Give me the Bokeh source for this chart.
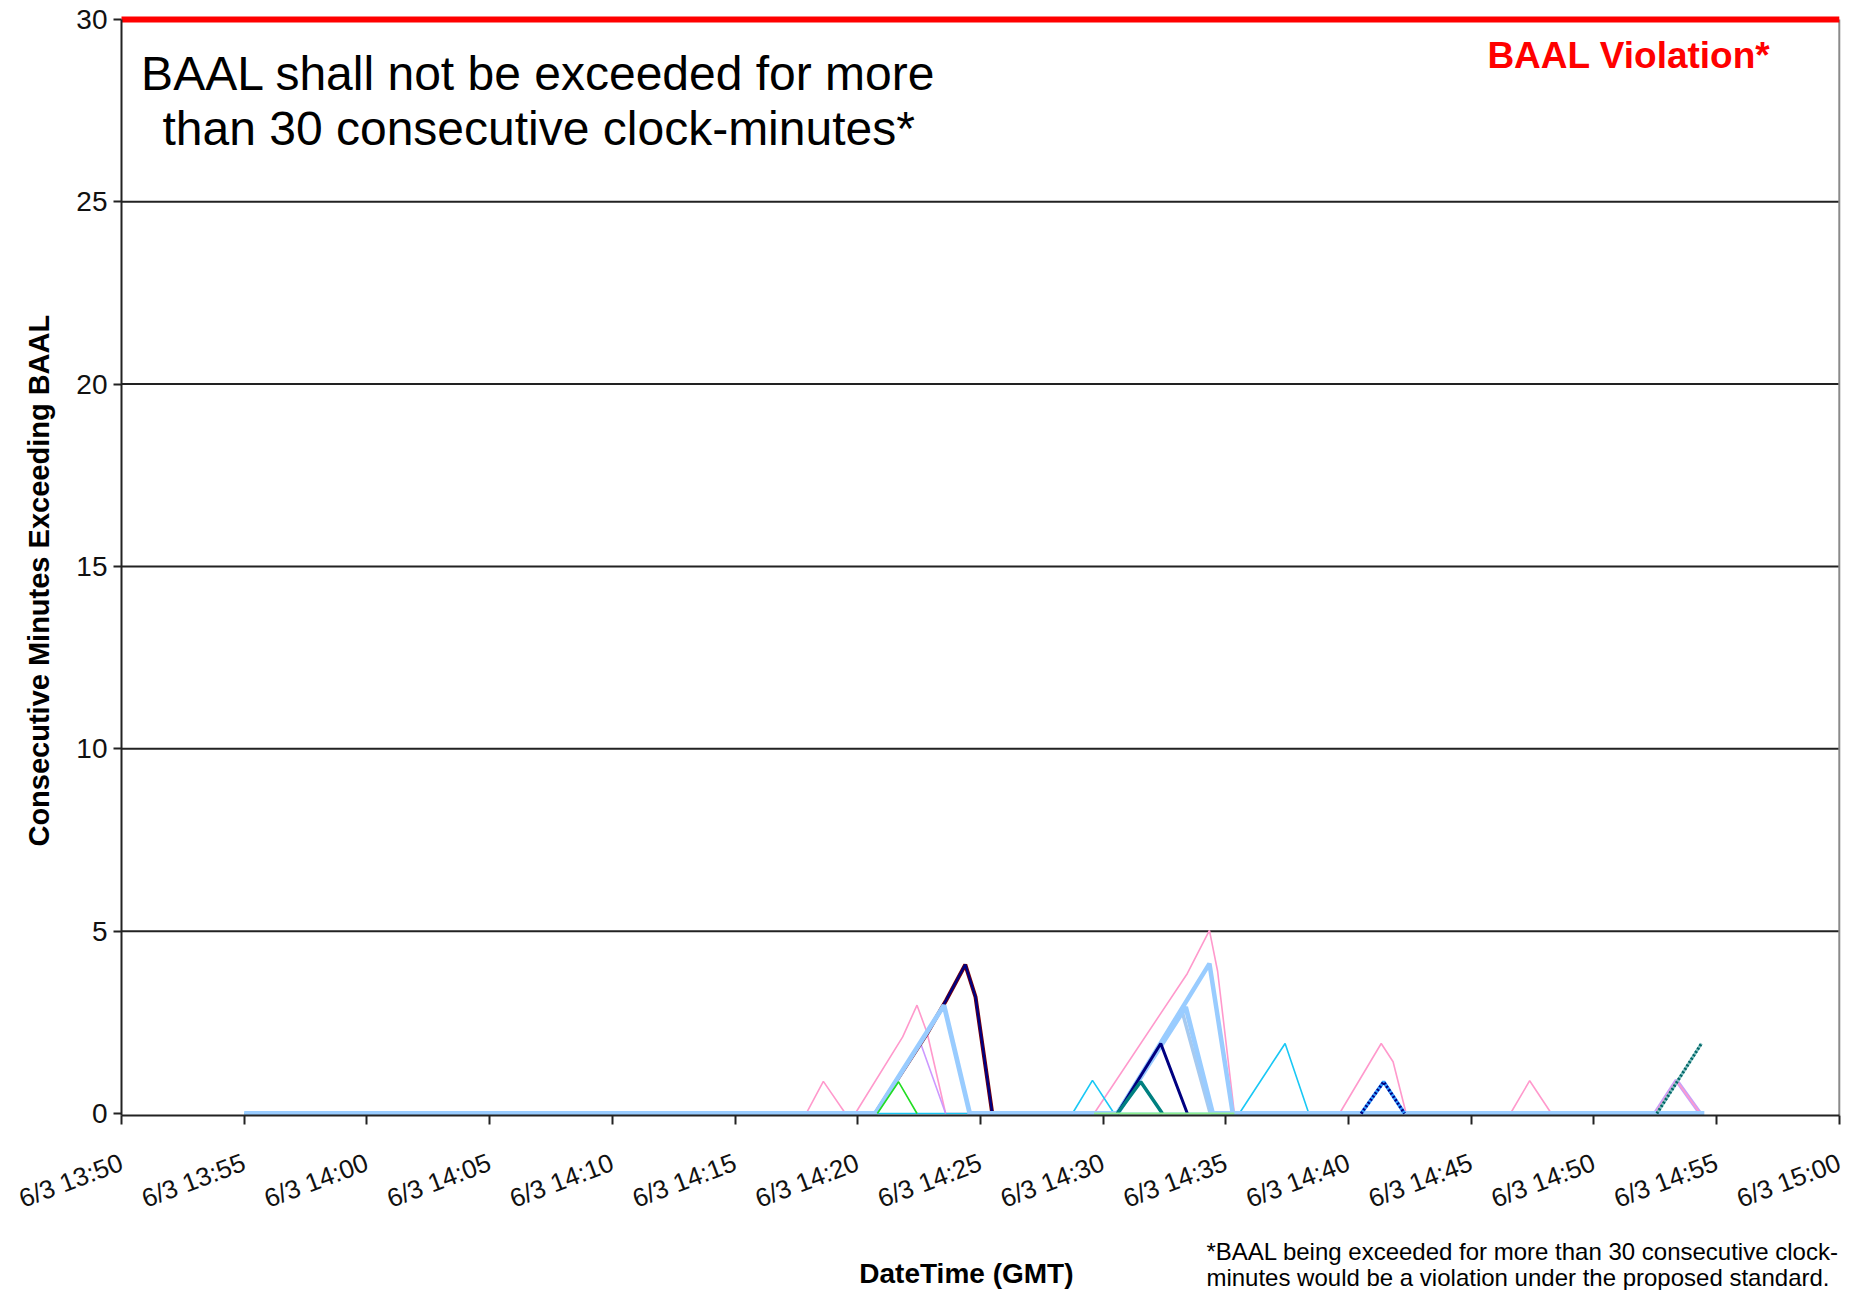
import math
from bokeh.plotting import figure
from bokeh.models import Range1d, FixedTicker, Label
from bokeh.embed import file_html
from bokeh.resources import INLINE

# ---------------- data (clock times GMT, values in consecutive minutes) ----------------
tick_labels = ["6/3 13:50", "6/3 13:55", "6/3 14:00", "6/3 14:05", "6/3 14:10",
               "6/3 14:15", "6/3 14:20", "6/3 14:25", "6/3 14:30", "6/3 14:35",
               "6/3 14:40", "6/3 14:45", "6/3 14:50", "6/3 14:55", "6/3 15:00"]
y_ticks = [0, 5, 10, 15, 20, 25, 30]
baal_limit = 30

pink_t = ["13:55:00", "14:17:54", "14:18:36", "14:19:30", "14:19:54", "14:21:50", "14:22:25",
          "14:22:50", "14:23:35", "14:29:38", "14:33:26", "14:34:20", "14:34:40", "14:35:21",
          "14:39:38", "14:41:20", "14:41:49", "14:42:21", "14:46:36", "14:47:23", "14:48:16",
          "14:52:30", "14:53:22", "14:54:20"]
pink_v = [0, 0, 0.88, 0, 0, 2.1, 2.97, 2.2, 0, 0, 3.84, 5.02, 3.9, 0,
          0, 1.92, 1.42, 0, 0, 0.9, 0, 0, 0.9, 0]

cyan_t = ["13:55:00", "14:28:45", "14:29:34", "14:30:27", "14:35:33", "14:37:25", "14:38:23", "14:54:20"]
cyan_v = [0, 0, 0.91, 0, 0, 1.92, 0, 0]

lav_t = ["14:20:43", "14:22:34", "14:23:35"]
lav_v = [0, 1.92, 0]

lav_end_t = ["14:52:29", "14:53:22", "14:54:20"]
lav_end_v = [0, 0.91, 0]

navy1_t = ["14:20:43", "14:22:50", "14:23:36", "14:24:23", "14:24:48", "14:25:29"]
navy1_v = [0, 2.2, 3.1, 4.08, 3.2, 0]

lb_t = ["13:55:00", "14:20:43", "14:23:31", "14:24:34", "14:30:35", "14:33:22", "14:34:28", "14:54:30"]
lb_v = [0, 0, 2.97, 0, 0, 2.92, 0, 0]

lb2_t = ["14:30:35", "14:34:20", "14:35:17"]
lb2_v = [0, 4.11, 0]

lb3_t = ["14:30:35", "14:33:12", "14:34:22"]
lb3_v = [0, 2.85, 0]

green_t = ["14:20:48", "14:21:40", "14:22:25"]
green_v = [0, 0.87, 0]

navy2_t = ["14:30:35", "14:32:21", "14:33:26"]
navy2_v = [0, 1.92, 0]

teal_t = ["14:30:35", "14:31:32", "14:32:25"]
teal_v = [0, 0.87, 0]

bluedot_t = ["14:40:31", "14:41:26", "14:42:17"]
bluedot_v = [0, 0.87, 0]

tealdot_t = ["14:52:34", "14:54:23"]
tealdot_v = [0, 1.92]

lgreen_t = ["14:29:38", "14:35:21"]
lgreen_v = [0, 0]

START = 13 * 60 + 50  # 13:50


def mins(ts):
    out = []
    for t in ts:
        h, m, s = (int(v) for v in t.split(":"))
        out.append(h * 60 + m + s / 60.0 - START)
    return out


FONT = "Liberation Sans"
x_first = 0
x_last = 5 * (len(tick_labels) - 1)
axis_y = -0.05
grid_ys = [t for t in y_ticks if 0 < t < baal_limit]

p = figure(width=1845, height=1290, output_backend="svg", toolbar_location=None,
           x_range=Range1d(-4.931, 70.253), y_range=Range1d(-4.853, 30.518),
           min_border_left=0, min_border_right=0, min_border_top=0, min_border_bottom=0)
p.outline_line_color = None
p.background_fill_color = "white"
p.border_fill_color = "white"

# axes (placed inside the frame at data locations)
p.xaxis.fixed_location = axis_y
p.xaxis.bounds = (x_first, x_last)
p.xaxis.ticker = FixedTicker(ticks=[5 * i for i in range(len(tick_labels))])
p.xaxis.major_label_overrides = {5 * i: lab for i, lab in enumerate(tick_labels)}
p.xaxis.major_label_orientation = 0.36
p.xaxis.major_label_text_font = FONT
p.xaxis.major_label_text_font_size = "26px"
p.xaxis.major_label_text_color = "#111111"
p.xaxis.major_label_standoff = 37
p.xaxis.major_tick_out = 9
p.xaxis.major_tick_in = 0
p.xaxis.minor_tick_line_color = None
p.xaxis.axis_line_width = 2
p.xaxis.major_tick_line_width = 2
p.xaxis.axis_line_color = "#222222"
p.xaxis.major_tick_line_color = "#222222"

p.yaxis.fixed_location = x_first
p.yaxis.bounds = (axis_y, baal_limit)
p.yaxis.ticker = FixedTicker(ticks=y_ticks)
p.yaxis.major_label_text_font = FONT
p.yaxis.major_label_text_font_size = "28px"
p.yaxis.major_label_text_color = "#111111"
p.yaxis.major_label_standoff = 6
p.yaxis.major_tick_out = 8
p.yaxis.major_tick_in = 0
p.yaxis.minor_tick_line_color = None
p.yaxis.axis_line_width = 2
p.yaxis.major_tick_line_width = 2
p.yaxis.axis_line_color = "#222222"
p.yaxis.major_tick_line_color = "#222222"

p.xgrid.grid_line_color = None
p.ygrid.grid_line_color = None

# horizontal gridlines limited to the plot area
p.segment(x0=[x_first] * len(grid_ys), x1=[x_last] * len(grid_ys), y0=grid_ys, y1=grid_ys,
          line_color="#222222", line_width=2)

# right border of the plot area
p.line([x_last, x_last], [axis_y, baal_limit], line_color="#8a8a8a", line_width=2)

# series (drawing order matters)
p.line(mins(lav_end_t), lav_end_v, line_color="#c8a0f8", line_width=4)
p.line(mins(pink_t), pink_v, line_color="#ff99cc", line_width=1.6)
p.line(mins(cyan_t), cyan_v, line_color="#19c8f5", line_width=1.6)
p.line(mins(lav_t), lav_v, line_color="#cc99ff", line_width=1.6)
p.line(mins(navy1_t), navy1_v, line_color="#800000", line_width=4)
p.line(mins(navy1_t), navy1_v, line_color="#000080", line_width=2.5)
p.line(mins(lb3_t), lb3_v, line_color="#a6caf0", line_width=3.5)
p.line(mins(lb_t), lb_v, line_color="#99ccff", line_width=4.8)
p.line(mins(lb2_t), lb2_v, line_color="#99ccff", line_width=4.5)
p.line(mins(green_t), green_v, line_color="#22dd22", line_width=1.6)
p.line(mins(navy2_t), navy2_v, line_color="#000080", line_width=3)
p.line(mins(teal_t), teal_v, line_color="#008080", line_width=3.5)
p.line(mins(bluedot_t), bluedot_v, line_color="#3399ff", line_width=3.5)
p.line(mins(bluedot_t), bluedot_v, line_color="#000080", line_width=3, line_dash="2 2")
p.line(mins(tealdot_t), tealdot_v, line_color="#80c0c0", line_width=3)
p.line(mins(tealdot_t), tealdot_v, line_color="#006666", line_width=3, line_dash="2 2")
p.line(mins(lgreen_t), lgreen_v, line_color="#90ee90", line_width=2)

# BAAL limit line
p.line([x_first, x_last], [baal_limit, baal_limit], line_color="#ff0000", line_width=6)

# texts
p.add_layout(Label(x=17.0, y=28.53, text="BAAL shall not be exceeded for more",
                   text_font=FONT, text_font_size="48px", text_color="black",
                   text_align="center", text_baseline="middle"))
p.add_layout(Label(x=17.0, y=27.01, text="than 30 consecutive clock-minutes*",
                   text_font=FONT, text_font_size="48px", text_color="black",
                   text_align="center", text_baseline="middle"))
p.add_layout(Label(x=55.66, y=29.01, text="BAAL Violation*",
                   text_font=FONT, text_font_size="37px", text_font_style="bold",
                   text_color="#ff0000", text_align="left", text_baseline="middle"))
p.add_layout(Label(x=-3.38, y=14.61, text="Consecutive Minutes Exceeding BAAL", angle=math.pi / 2,
                   text_font=FONT, text_font_size="29px", text_font_style="bold",
                   text_color="black", text_align="center", text_baseline="middle"))
p.add_layout(Label(x=34.43, y=-4.39, text="DateTime (GMT)",
                   text_font=FONT, text_font_size="28px", text_font_style="bold",
                   text_color="black", text_align="center", text_baseline="middle"))
p.add_layout(Label(x=44.21, y=-3.78, text="*BAAL being exceeded for more than 30 consecutive clock-",
                   text_font=FONT, text_font_size="24px", text_color="black",
                   text_align="left", text_baseline="middle"))
p.add_layout(Label(x=44.21, y=-4.49, text="minutes would be a violation under the proposed standard.",
                   text_font=FONT, text_font_size="24px", text_color="black",
                   text_align="left", text_baseline="middle"))

open("out.html", "w").write(file_html(p, INLINE))
